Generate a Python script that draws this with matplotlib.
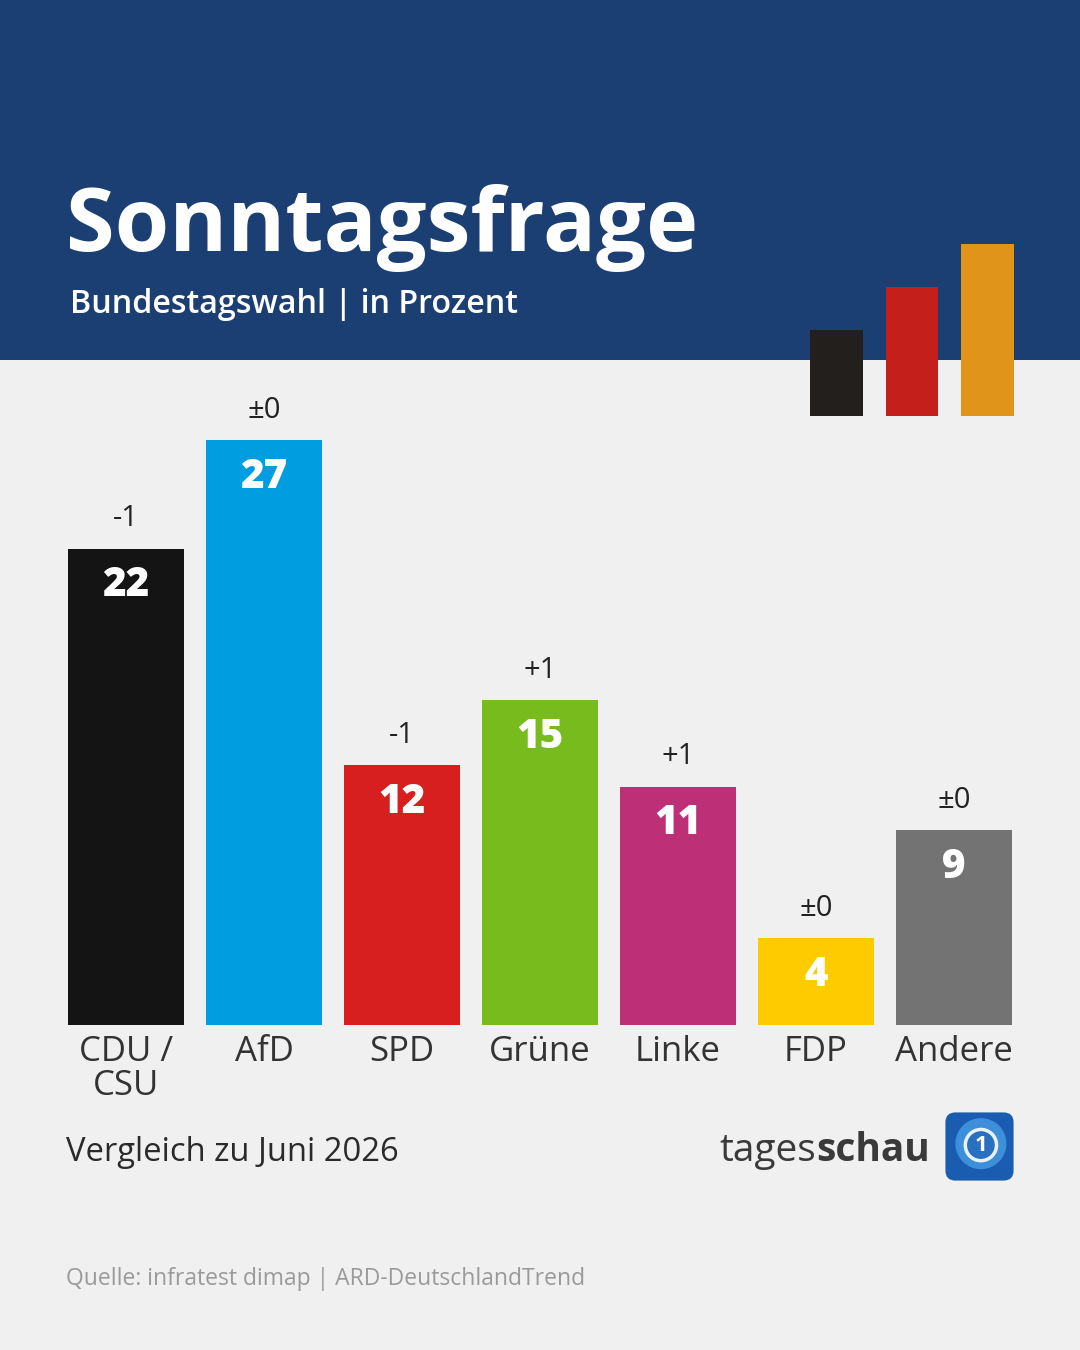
import matplotlib
matplotlib.use("Agg")
import matplotlib.pyplot as plt
from matplotlib.patches import Rectangle, FancyBboxPatch, Circle
import numpy as np

# ---- data ----
parties = ["CDU /\nCSU", "AfD", "SPD", "Grüne", "Linke", "FDP", "Andere"]
values = [22, 27, 12, 15, 11, 4, 9]
changes = ["-1", "±0", "-1", "+1", "+1", "±0", "±0"]
bar_colors = ["#141414", "#009de0", "#d71f1f", "#77bb1c", "#bd2f76", "#fecb00", "#737373"]
flag_heights = [2, 3, 4]
flag_colors = ["#221f1c", "#c41f1a", "#e0951a"]

W, H = 1080, 1350
fig = plt.figure(figsize=(W / 100, H / 100), dpi=100)
fig.patch.set_facecolor("#f0f0f0")

def fx(px):
    return px / W

def fy(py):
    return 1 - py / H

FONT = "Open Sans"

# header band
fig.patches.append(Rectangle((0, fy(360)), 1, 360 / H, transform=fig.transFigure,
                             facecolor="#1c3f73", edgecolor="none", zorder=-5))

fig.text(fx(66), fy(251), "Sonntagsfrage", fontsize=63.5, fontweight="bold",
         color="white", family=FONT, ha="left", va="baseline")
fig.text(fx(70), fy(313), "Bundestagswahl | in Prozent", fontsize=23.2,
         fontweight="semibold", color="white", family=FONT, ha="left", va="baseline")

# flag bars
axf = fig.add_axes([fx(799), fy(416), fx(1025) - fx(799), (416 - 244) / H])
axf.set_zorder(5)
axf.bar(range(3), flag_heights, width=53 / 75.5, color=flag_colors)
axf.set_xlim(-0.5, 2.5)
axf.set_ylim(0, 4)
axf.axis("off")

# main bar chart
step = 138
left_px = 126 - step / 2
ax = fig.add_axes([fx(left_px), fy(1025), 7 * step / W, 30 * 21.65 / H])
ax.set_facecolor("none")
x = np.arange(len(values))
ax.bar(x, values, width=116 / step, color=bar_colors, zorder=2)
ax.set_xlim(-0.5, 6.5)
ax.set_ylim(0, 30)
ax.axis("off")

for xi, v, c in zip(x, values, changes):
    ax.annotate(str(v), (xi, v), xytext=(0, -37 * 0.72), textcoords="offset points",
                ha="center", va="center", fontsize=29, fontweight="heavy",
                color="white", family=FONT)
    ax.annotate(c, (xi, v), xytext=(0, 30 * 0.72), textcoords="offset points",
                ha="center", va="center", fontsize=21, color="#222222", family=FONT)

for xi, p in zip(x, parties):
    ax.annotate(p, (xi, 0), xytext=(0, -10 * 0.72), textcoords="offset points",
                ha="center", va="top", fontsize=25, color="#333333", family=FONT,
                linespacing=1.0, annotation_clip=False)

fig.text(fx(66), fy(1161), "Vergleich zu Juni 2026", fontsize=23.6, color="#2a2a2a",
         family=FONT, ha="left", va="baseline")

fig.text(fx(66), fy(1285), "Quelle: infratest dimap | ARD-DeutschlandTrend", fontsize=16.5,
         color="#9a9a9a", family=FONT, ha="left", va="baseline")

# tagesschau wordmark
t1 = fig.text(fx(719), fy(1161), "tages", fontsize=28, color="#3a3a3a",
              family=FONT, ha="left", va="baseline")
fig.canvas.draw()
bb = t1.get_window_extent()
fig.text(bb.x1 / W, fy(1161), "schau", fontsize=28, color="#3a3a3a", fontweight="bold",
         family=FONT, ha="left", va="baseline")

# logo
axl = fig.add_axes([fx(944), fy(1182), 71 / W, 71 / H])
axl.set_xlim(0, 1)
axl.set_ylim(0, 1)
axl.axis("off")
axl.add_patch(FancyBboxPatch((0.02, 0.02), 0.96, 0.96, boxstyle="round,pad=0,rounding_size=0.14",
                             facecolor="#1a5db0", edgecolor="none"))
axl.add_patch(Circle((0.52, 0.54), 0.36, facecolor="#3c8fd8", edgecolor="none"))
axl.add_patch(Circle((0.52, 0.52), 0.22, facecolor="#2a70c0", edgecolor="#e8f2fb", linewidth=2.5))
axl.text(0.52, 0.52, "1", fontsize=16, fontweight="bold", color="white",
         ha="center", va="center", family=FONT)

fig.savefig("out.png", dpi=100, facecolor=fig.get_facecolor())
